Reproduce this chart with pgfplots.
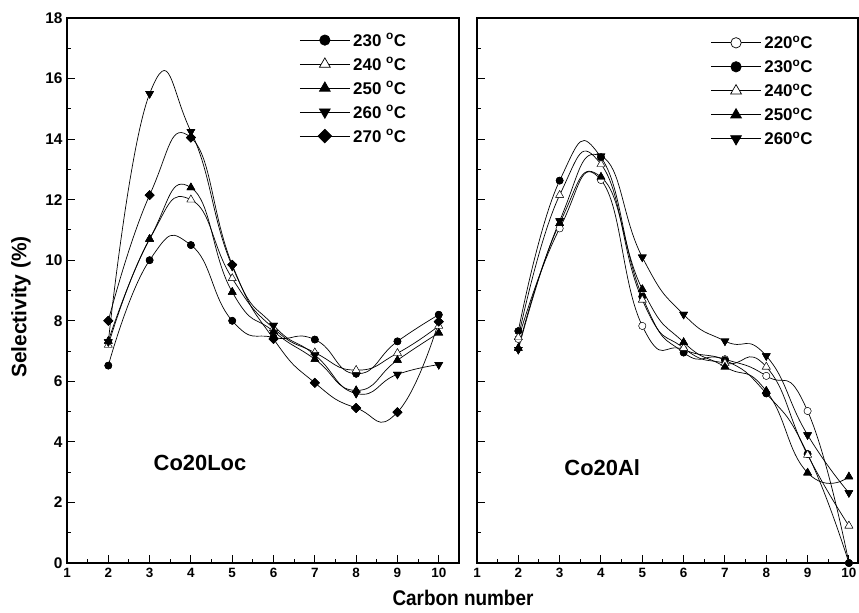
\documentclass[border=0pt]{standalone}
\usepackage{pgfplots}
\pgfplotsset{compat=1.18}
\usepackage{pgfplotstable}
\usepackage{fontspec}
\setmainfont{Liberation Sans}

% Selectivity (%) against carbon number, Co20Loc catalyst
\pgfplotstableread{
n  s230  s240  s250  s260  s270
2  6.52  7.20  7.33  7.30  8.00
3  10.0  10.7  10.7  15.5  12.15
4  10.5  12.0  12.4  14.25 14.05
5  8.00  9.40  8.95  9.80  9.85
6  7.45  7.75  7.65  7.85  7.40
7  7.38  6.95  6.73  6.87  5.95
8  6.25  6.37  5.70  5.60  5.12
9  7.32  6.93  6.70  6.23  4.98
10 8.20  7.83  7.60  6.55  7.97
}\loctable

% Selectivity (%) against carbon number, Co20Al catalyst
\pgfplotstableread{
n  s220  s230  s240  s250  s260
2  7.40  7.66  7.45  7.10  7.05
3  11.05 12.63 12.15 11.22 11.30
4  12.65 13.40 13.17 12.75 13.44
5  7.83  8.80  8.69  9.04  10.10
6  7.05  6.95  7.10  7.29  8.21
7  6.73  6.70  6.60  6.48  7.33
8  6.18  5.60  6.48  5.68  6.84
9  5.02  3.60  3.57  2.98  4.23
10 0.00  0.00  1.23  2.85  2.32
}\altable

\pgfplotsset{
  panel/.style={
    scale only axis, height=545bp,
    xmin=1, ymin=0, ymax=18,
    xtick={1,...,10}, minor x tick num=1,
    ytick={0,2,...,18}, minor y tick num=1,
    xtick pos=bottom, ytick pos=left, tick align=inside,
    major tick length=7.5bp, minor tick length=4bp,
    axis line style={line width=1.3bp},
    tick style={line width=1bp, black},
    xticklabel style={font=\bfseries\fontsize{13.5}{13.5}\selectfont, yshift=-2bp},
    yticklabel style={font=\bfseries\fontsize{15.5}{15.5}\selectfont, xshift=-1bp},
    /pgf/number format/assume math mode=true,
    legend cell align=left,
    legend style={draw=none, fill=none, anchor=north west,
      font=\bfseries\fontsize{17}{17}\selectfont,
      nodes={text height=12bp, text depth=0bp, inner sep=3bp},
      row sep=6bp},
    legend image code/.code={
      \draw[mark repeat=2, mark phase=2, #1]
        plot coordinates {(0bp,0bp) (25bp,0bp) (50bp,0bp)};},
  },
  curve/.style={smooth, tension=0.9, line width=0.7bp, black, no marks, forget plot},
  halo/.style={only marks, forget plot, mark options={draw=white, fill=white, line width=3bp}},
  mk/.style={only marks, forget plot, black},
  fcirc/.style={mark=*, mark size=#1, mark options={fill=black}},
  ocirc/.style={mark=*, mark size=#1, mark options={fill=white}},
  otri/.style={mark=triangle*, mark size=#1, mark options={fill=white}},
  ftri/.style={mark=triangle*, mark size=#1, mark options={fill=black}},
  dtri/.style={mark=triangle*, mark size=#1, mark options={fill=black, rotate=180}},
  fdia/.style={mark=square*, mark size=#1, mark options={fill=black, rotate=45}},
  fcirc/.default=3.6bp, ocirc/.default=3.6bp,
  otri/.default=4.6bp, ftri/.default=4.6bp, dtri/.default=4.6bp,
  fdia/.default=3.3bp,
  lg/.style={black, line width=0.7bp},
}

\begin{document}
\begin{tikzpicture}
\useasboundingbox (0,0) rectangle (859bp,613bp);

% ---------------- Co20Loc ----------------
\begin{axis}[panel, at={(67bp,50bp)}, anchor=south west,
  width=392bp, xmax=10.49,
  legend style={at={(rel axis cs:0.585,0.98)}}]
  \addlegendimage{lg, fcirc=5.2bp}
  \addlegendentry{230 \textsuperscript{o}C}
  \addlegendimage{lg, otri=6.2bp}
  \addlegendentry{240 \textsuperscript{o}C}
  \addlegendimage{lg, ftri=6.2bp}
  \addlegendentry{250 \textsuperscript{o}C}
  \addlegendimage{lg, dtri=6.2bp}
  \addlegendentry{260 \textsuperscript{o}C}
  \addlegendimage{lg, fdia=4.8bp}
  \addlegendentry{270 \textsuperscript{o}C}

  \addplot[curve] table[x=n, y=s230] {\loctable};
  \addplot[curve] table[x=n, y=s240] {\loctable};
  \addplot[curve] table[x=n, y=s250] {\loctable};
  \addplot[curve] table[x=n, y=s260] {\loctable};
  \addplot[curve] table[x=n, y=s270] {\loctable};

  \addplot[halo, fcirc] table[x=n, y=s230] {\loctable};
  \addplot[halo, otri] table[x=n, y=s240] {\loctable};
  \addplot[halo, ftri] table[x=n, y=s250] {\loctable};
  \addplot[halo, dtri] table[x=n, y=s260] {\loctable};
  \addplot[halo, fdia] table[x=n, y=s270] {\loctable};

  \addplot[mk, fcirc] table[x=n, y=s230] {\loctable};
  \addplot[mk, otri] table[x=n, y=s240] {\loctable};
  \addplot[mk, ftri] table[x=n, y=s250] {\loctable};
  \addplot[mk, dtri] table[x=n, y=s260] {\loctable};
  \addplot[mk, fdia] table[x=n, y=s270] {\loctable};

  \node[font=\bfseries\fontsize{22}{22}\selectfont] at (axis cs:4.22,3.3) {Co20Loc};
\end{axis}

% ---------------- Co20Al ----------------
\begin{axis}[panel, at={(477bp,50bp)}, anchor=south west,
  width=381bp, xmax=10.22, yticklabels={},
  legend style={at={(rel axis cs:0.605,0.975)}}]
  \addlegendimage{lg, ocirc=5.2bp}
  \addlegendentry{220\textsuperscript{o}C}
  \addlegendimage{lg, fcirc=5.2bp}
  \addlegendentry{230\textsuperscript{o}C}
  \addlegendimage{lg, otri=6.2bp}
  \addlegendentry{240\textsuperscript{o}C}
  \addlegendimage{lg, ftri=6.2bp}
  \addlegendentry{250\textsuperscript{o}C}
  \addlegendimage{lg, dtri=6.2bp}
  \addlegendentry{260\textsuperscript{o}C}

  \addplot[curve] table[x=n, y=s220] {\altable};
  \addplot[curve] table[x=n, y=s230] {\altable};
  \addplot[curve] table[x=n, y=s240] {\altable};
  \addplot[curve] table[x=n, y=s250] {\altable};
  \addplot[curve] table[x=n, y=s260] {\altable};

  \addplot[halo, ocirc] table[x=n, y=s220] {\altable};
  \addplot[halo, fcirc] table[x=n, y=s230] {\altable};
  \addplot[halo, otri] table[x=n, y=s240] {\altable};
  \addplot[halo, ftri] table[x=n, y=s250] {\altable};
  \addplot[halo, dtri] table[x=n, y=s260] {\altable};

  \addplot[mk, ocirc] table[x=n, y=s220] {\altable};
  \addplot[mk, fcirc] table[x=n, y=s230] {\altable};
  \addplot[mk, otri] table[x=n, y=s240] {\altable};
  \addplot[mk, ftri] table[x=n, y=s250] {\altable};
  \addplot[mk, dtri] table[x=n, y=s260] {\altable};

  \node[font=\bfseries\fontsize{22}{22}\selectfont] at (axis cs:4.03,3.14) {Co20Al};
\end{axis}

\node[font=\bfseries\fontsize{21}{21}\selectfont, rotate=90] at (21bp,306bp) {Selectivity (\%)};
\node[font=\bfseries\fontsize{19}{19}\selectfont, yscale=1.12] at (463bp,15bp) {Carbon number};
\end{tikzpicture}
\end{document}
